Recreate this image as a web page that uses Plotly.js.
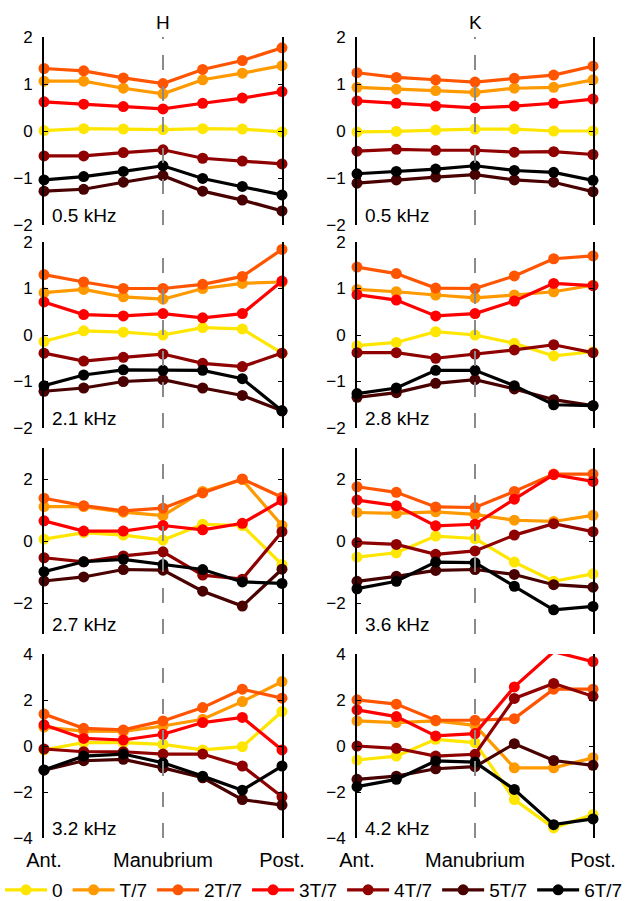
<!DOCTYPE html>
<html>
<head>
<meta charset="utf-8">
<script src="https://cdn.plot.ly/plotly-3.0.1.min.js"></script>
<style>html,body{margin:0;padding:0;background:#fff;}#plot{width:631px;height:901px;}</style>
</head>
<body>
<div id="plot"></div>
<script>
// ---- data ----
const phases = ['0', 'T/7', '2T/7', '3T/7', '4T/7', '5T/7', '6T/7'];
const phaseColors = ['#FFE600', '#FF9900', '#FF5500', '#FF0000', '#8F0000', '#480000', '#000000'];
const positions = [1, 2, 3, 4, 5, 6, 7];
const xTickVals = [1, 4, 7];
const xTickLabels = ['Ant.', 'Manubrium', 'Post.'];
const columnTitles = ['H', 'K'];

// each: one array per phase (0 ... 6T/7), values from Ant. to Post.
const H_05 = [
  [0.01, 0.05, 0.04, 0.03, 0.05, 0.04, -0.02],
  [1.06, 1.06, 0.91, 0.79, 1.09, 1.23, 1.39],
  [1.33, 1.28, 1.13, 1.01, 1.31, 1.50, 1.77],
  [0.62, 0.57, 0.52, 0.47, 0.59, 0.70, 0.84],
  [-0.53, -0.53, -0.46, -0.40, -0.58, -0.64, -0.70],
  [-1.28, -1.24, -1.09, -0.95, -1.28, -1.47, -1.70],
  [-1.04, -0.97, -0.86, -0.74, -1.01, -1.18, -1.36]
];
const K_05 = [
  [-0.02, -0.01, 0.02, 0.04, 0.04, 0.00, 0.00],
  [0.93, 0.89, 0.86, 0.82, 0.91, 0.93, 1.09],
  [1.24, 1.14, 1.09, 1.04, 1.12, 1.19, 1.38],
  [0.64, 0.59, 0.53, 0.49, 0.53, 0.59, 0.68],
  [-0.43, -0.39, -0.41, -0.41, -0.45, -0.44, -0.50],
  [-1.11, -1.04, -0.98, -0.93, -1.04, -1.09, -1.29],
  [-0.91, -0.86, -0.81, -0.74, -0.84, -0.88, -1.05]
];
const H_21 = [
  [-0.14, 0.09, 0.06, 0.00, 0.16, 0.13, -0.39],
  [0.91, 0.98, 0.82, 0.77, 1.00, 1.11, 1.14],
  [1.30, 1.14, 1.00, 1.00, 1.09, 1.26, 1.84],
  [0.71, 0.44, 0.41, 0.46, 0.37, 0.46, 1.16],
  [-0.39, -0.56, -0.48, -0.41, -0.61, -0.68, -0.39],
  [-1.21, -1.14, -1.00, -0.96, -1.14, -1.30, -1.63],
  [-1.09, -0.86, -0.75, -0.76, -0.76, -0.94, -1.63]
];
const K_28 = [
  [-0.23, -0.16, 0.07, 0.00, -0.18, -0.45, -0.36],
  [0.98, 0.93, 0.86, 0.80, 0.86, 0.93, 1.07],
  [1.46, 1.32, 1.01, 1.00, 1.27, 1.64, 1.70],
  [0.87, 0.75, 0.41, 0.46, 0.73, 1.11, 1.06],
  [-0.38, -0.38, -0.50, -0.41, -0.32, -0.21, -0.38],
  [-1.34, -1.24, -1.04, -0.96, -1.16, -1.39, -1.52],
  [-1.26, -1.14, -0.76, -0.76, -1.09, -1.50, -1.52]
];
const H_27 = [
  [0.06, 0.27, 0.19, 0.03, 0.54, 0.50, -0.76],
  [1.11, 1.11, 0.93, 0.82, 1.60, 1.98, 0.50],
  [1.38, 1.14, 0.97, 1.06, 1.55, 2.00, 1.41],
  [0.65, 0.32, 0.32, 0.50, 0.36, 0.57, 1.31],
  [-0.54, -0.67, -0.48, -0.35, -1.10, -1.23, 0.30],
  [-1.29, -1.16, -0.92, -0.94, -1.62, -2.10, -0.91],
  [-0.99, -0.67, -0.59, -0.76, -0.92, -1.32, -1.37]
];
const K_36 = [
  [-0.52, -0.38, 0.16, 0.08, -0.68, -1.30, -1.06],
  [0.92, 0.89, 0.94, 0.86, 0.67, 0.63, 0.83],
  [1.75, 1.57, 1.10, 1.08, 1.60, 2.16, 2.16],
  [1.32, 1.14, 0.49, 0.54, 1.35, 2.14, 1.92],
  [-0.05, -0.11, -0.43, -0.32, 0.19, 0.56, 0.30],
  [-1.30, -1.14, -0.95, -0.92, -1.08, -1.41, -1.49],
  [-1.54, -1.30, -0.68, -0.70, -1.46, -2.22, -2.11]
];
const H_32 = [
  [-0.17, 0.15, 0.15, 0.07, -0.17, -0.03, 1.50],
  [0.82, 0.65, 0.63, 0.87, 1.16, 1.93, 2.80],
  [1.39, 0.77, 0.70, 1.09, 1.67, 2.47, 2.08],
  [0.92, 0.33, 0.26, 0.51, 1.02, 1.24, -0.17],
  [-0.13, -0.25, -0.25, -0.35, -0.35, -0.87, -2.21],
  [-1.05, -0.64, -0.58, -0.95, -1.38, -2.33, -2.57],
  [-1.04, -0.44, -0.35, -0.73, -1.31, -1.92, -0.87]
];
const K_42 = [
  [-0.61, -0.44, 0.29, 0.15, -2.33, -3.56, -2.98],
  [1.09, 1.02, 1.09, 0.90, -0.95, -0.95, -0.51],
  [2.01, 1.82, 1.12, 1.12, 1.19, 2.47, 2.47],
  [1.57, 1.28, 0.44, 0.54, 2.57, 4.10, 3.67],
  [0.00, -0.10, -0.44, -0.36, 2.07, 2.72, 2.16],
  [-1.45, -1.31, -0.99, -0.90, 0.10, -0.63, -0.84],
  [-1.77, -1.45, -0.65, -0.70, -1.89, -3.42, -3.17]
];

const panels = [H_05, K_05, H_21, K_28, H_27, K_36, H_32, K_42];
const panelLabels = ['0.5 kHz', '0.5 kHz', '2.1 kHz', '2.8 kHz', '2.7 kHz', '3.6 kHz', '3.2 kHz', '4.2 kHz'];
const rowRanges = [[-2, 2], [-2, 2], [-3, 3], [-4, 4]];
const rowDticks = [1, 1, 2, 2];

// ---- layout geometry (pixels) ----
const W = 631, Hh = 901;
const colPx = [[44, 282], [357, 593]];
const rowPx = [[37, 225], [242, 428], [448, 634], [654, 838]];
const FONT = 'Liberation Sans, Arial, Helvetica, sans-serif';

const traces = [];
const layout = {
  width: W, height: Hh,
  margin: {l: 0, r: 0, t: 0, b: 0, autoexpand: false},
  paper_bgcolor: '#ffffff', plot_bgcolor: 'rgba(0,0,0,0)',
  font: {family: FONT, size: 17, color: '#000'},
  showlegend: true,
  legend: {
    orientation: 'h', xref: 'paper', yref: 'paper',
    x: 0.0, xanchor: 'left', y: 11 / Hh, yanchor: 'middle',
    font: {family: FONT, size: 19, color: '#000'},
    bgcolor: 'rgba(0,0,0,0)', itemwidth: 42, tracegroupgap: 0
  },
  shapes: [], annotations: []
};

panels.forEach((panel, p) => {
  const r = Math.floor(p / 2), c = p % 2;
  const n = p + 1;
  const xa = n === 1 ? 'xaxis' : 'xaxis' + n;
  const ya = n === 1 ? 'yaxis' : 'yaxis' + n;
  const xr = n === 1 ? 'x' : 'x' + n;
  const yr = n === 1 ? 'y' : 'y' + n;
  layout[xa] = {
    domain: [colPx[c][0] / W, colPx[c][1] / W],
    range: [1, 7], anchor: yr,
    showline: false, zeroline: false, showgrid: false,
    tickvals: xTickVals, ticktext: xTickLabels,
    showticklabels: r === 3, ticks: '',
    ticklabelstandoff: 8,
    tickfont: {family: FONT, size: 20, color: '#000'}
  };
  layout[ya] = {
    domain: [1 - rowPx[r][1] / Hh, 1 - rowPx[r][0] / Hh],
    range: rowRanges[r], dtick: rowDticks[r], tick0: 0, anchor: xr,
    showline: true, linecolor: '#000', linewidth: 2, mirror: 'ticks',
    ticks: 'inside', ticklen: 4, tickwidth: 1, tickcolor: '#000',
    zeroline: false, showgrid: false,
    ticklabelstandoff: 6,
    tickfont: {family: FONT, size: 17, color: '#000'}
  };
  panel.forEach((vals, k) => {
    traces.push({
      type: 'scatter', mode: 'lines+markers',
      x: positions, y: vals, xaxis: xr, yaxis: yr,
      name: phases[k], legendgroup: phases[k], showlegend: p === 0,
      line: {color: phaseColors[k], width: 3.2},
      marker: {color: phaseColors[k], size: 11},
      cliponaxis: false, hoverinfo: 'skip'
    });
  });
  layout.shapes.push({
    type: 'line', xref: xr, yref: yr + ' domain',
    x0: 4, x1: 4, y0: 0, y1: 1, layer: 'above',
    line: {color: '#8a8a8a', width: 2, dash: '15px,16px'}
  });
  layout.annotations.push({
    xref: xr + ' domain', yref: yr + ' domain', x: 0, y: 0,
    xanchor: 'left', yanchor: 'bottom', xshift: 6, yshift: -3,
    text: panelLabels[p], showarrow: false,
    font: {family: FONT, size: 19, color: '#000'}
  });
  if (r === 0) {
    layout.annotations.push({
      xref: xr, yref: 'paper', x: 4, y: 1 - 23 / Hh,
      xanchor: 'center', yanchor: 'middle',
      text: columnTitles[c], showarrow: false,
      font: {family: FONT, size: 19, color: '#000'}
    });
  }
});

Plotly.newPlot('plot', traces, layout, {staticPlot: true, displayModeBar: false});
</script>
</body>
</html>
